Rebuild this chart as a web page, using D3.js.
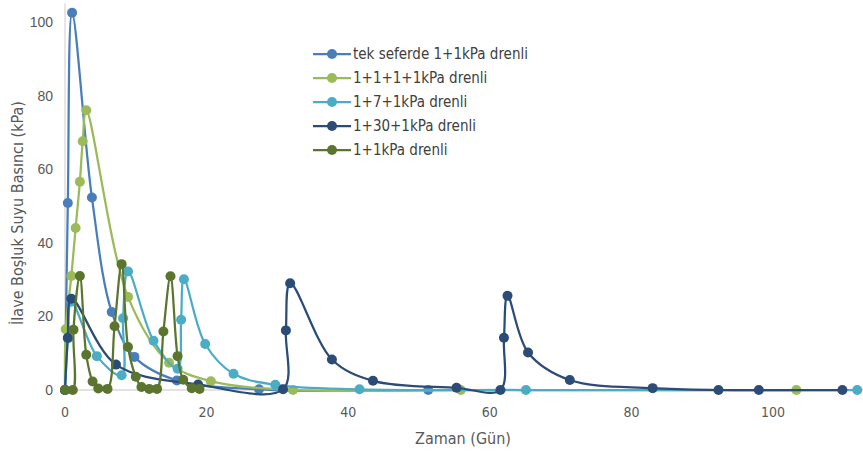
<!DOCTYPE html>
<html>
<head>
<meta charset="utf-8">
<script src="https://cdn.jsdelivr.net/npm/d3@7"></script>
<style>
  body { margin: 0; background: #fff; }
  svg { display: block; font-family: "Liberation Sans Narrow", "DejaVu Sans Condensed", "Liberation Sans", sans-serif; }
</style>
</head>
<body>
<svg id="chart" width="863" height="454"></svg>
<script>
// series values: [day, kPa]
var tekSeferde = [[0,0],[0.4,50.8],[1,102.5],[3.8,52.3],[6.6,21.2],[9.8,9],[15.8,2.6],[27.4,0.2],[51.3,0]];
var dortKademe = [[0,0],[0.1,16.5],[0.9,31],[1.5,44],[2.1,56.6],[2.5,67.6],[3,76],[8.9,25.3],[14.7,7.4],[20.6,2.4],[32.2,0],[55.9,0],[103.3,0]];
var yediGun = [[0,0],[0.4,14],[0.9,24],[4.5,9.2],[8,4],[8.2,19.5],[8.9,32.2],[12.5,13.4],[15.9,5.8],[16.4,19.1],[16.8,30.1],[19.8,12.5],[23.8,4.4],[29.7,1.4],[41.6,0.2],[65.1,0],[111.9,0]];
var otuzGun = [[0,0],[0.4,14.2],[0.9,24.8],[7.2,6.9],[18.8,1.5],[30.8,0.2],[31.2,16.2],[31.8,29],[37.7,8.3],[43.5,2.5],[55.3,0.6],[61.5,0],[62,14.2],[62.5,25.6],[65.4,10.2],[71.3,2.7],[83,0.5],[92.3,0],[98,0],[109.8,0]];
var birBir = [[0,0],[1.1,0],[1.2,16.4],[2.1,31],[3,9.6],[3.9,2.3],[4.7,0.4],[6,0.3],[7,17.3],[8,34.2],[8.9,11.7],[10,3.6],[10.8,0.8],[11.9,0.3],[13,0.3],[13.9,15.9],[14.9,30.9],[15.9,9.2],[16.7,2.8],[17.9,0.5],[19,0.3]];

var seriesNames = ["tek seferde 1+1kPa drenli", "1+1+1+1kPa drenli", "1+7+1kPa drenli", "1+30+1kPa drenli", "1+1kPa drenli"];
var seriesColors = ["#4a7ebb", "#9bbb59", "#4bacc6", "#2b4c77", "#5b752e"];
var xTicks = [0, 20, 40, 60, 80, 100];
var yTicks = [0, 20, 40, 60, 80, 100];

var allSeries = [tekSeferde, dortKademe, yediGun, otuzGun, birBir];

var svg = d3.select("#chart");

var x = d3.scaleLinear().domain([0, 120]).range([65, 914.6]);
var y = d3.scaleLinear().domain([0, 105]).range([390, 3.6]);

// axis lines
svg.append("line")
  .attr("x1", x(0)).attr("x2", 863)
  .attr("y1", y(0)).attr("y2", y(0))
  .attr("stroke", "#d9d9d9").attr("stroke-width", 1.3);
svg.append("line")
  .attr("x1", x(0)).attr("x2", x(0))
  .attr("y1", y(0)).attr("y2", y(105))
  .attr("stroke", "#d9d9d9").attr("stroke-width", 1.3);

// x tick labels
svg.append("g").selectAll("text")
  .data(xTicks)
  .enter().append("text")
  .attr("x", function(d) { return x(d); })
  .attr("y", y(0) + 27)
  .attr("text-anchor", "middle")
  .attr("fill", "#595959").attr("font-size", 14)
  .text(function(d) { return d; });

var yAxis = svg.append("g")
  .attr("transform", "translate(" + x(0) + ",0)")
  .call(d3.axisLeft(y).tickValues(yTicks).tickSize(0).tickPadding(12));
yAxis.select(".domain").remove();
yAxis.selectAll("text").attr("fill", "#595959").attr("font-size", 14);

svg.append("text")
  .attr("x", 463).attr("y", 444)
  .attr("text-anchor", "middle")
  .attr("fill", "#595959").attr("font-size", 16)
  .text("Zaman (Gün)");

svg.append("text")
  .attr("transform", "translate(23,213) rotate(-90)")
  .attr("text-anchor", "middle")
  .attr("fill", "#595959").attr("font-size", 16)
  .text("İlave Boşluk Suyu Basıncı (kPa)");

var line = d3.line()
  .x(function(d) { return x(d[0]); })
  .y(function(d) { return y(d[1]); })
  .curve(d3.curveCatmullRom.alpha(0.5));

var groups = svg.append("g").selectAll("g")
  .data(allSeries)
  .enter().append("g");

groups.append("path")
  .attr("d", function(d) { return line(d); })
  .attr("fill", "none")
  .attr("stroke", function(d, i) { return seriesColors[i]; })
  .attr("stroke-width", 2.25);

groups.selectAll("circle")
  .data(function(d, i) { return d.map(function(p) { return {p: p, c: seriesColors[i]}; }); })
  .enter().append("circle")
  .attr("cx", function(d) { return x(d.p[0]); })
  .attr("cy", function(d) { return y(d.p[1]); })
  .attr("r", 5)
  .attr("fill", function(d) { return d.c; });

// legend
var legend = svg.append("g").selectAll("g")
  .data(seriesNames)
  .enter().append("g")
  .attr("transform", function(d, i) { return "translate(313," + (54 + i * 24) + ")"; });

legend.append("line")
  .attr("x1", 0).attr("x2", 38)
  .attr("stroke", function(d, i) { return seriesColors[i]; })
  .attr("stroke-width", 2.25);
legend.append("circle")
  .attr("cx", 19).attr("r", 5)
  .attr("fill", function(d, i) { return seriesColors[i]; });
legend.append("text")
  .attr("x", 40).attr("dy", "0.35em")
  .attr("fill", "#404040").attr("font-size", 15)
  .text(function(d) { return d; });
</script>
</body>
</html>
